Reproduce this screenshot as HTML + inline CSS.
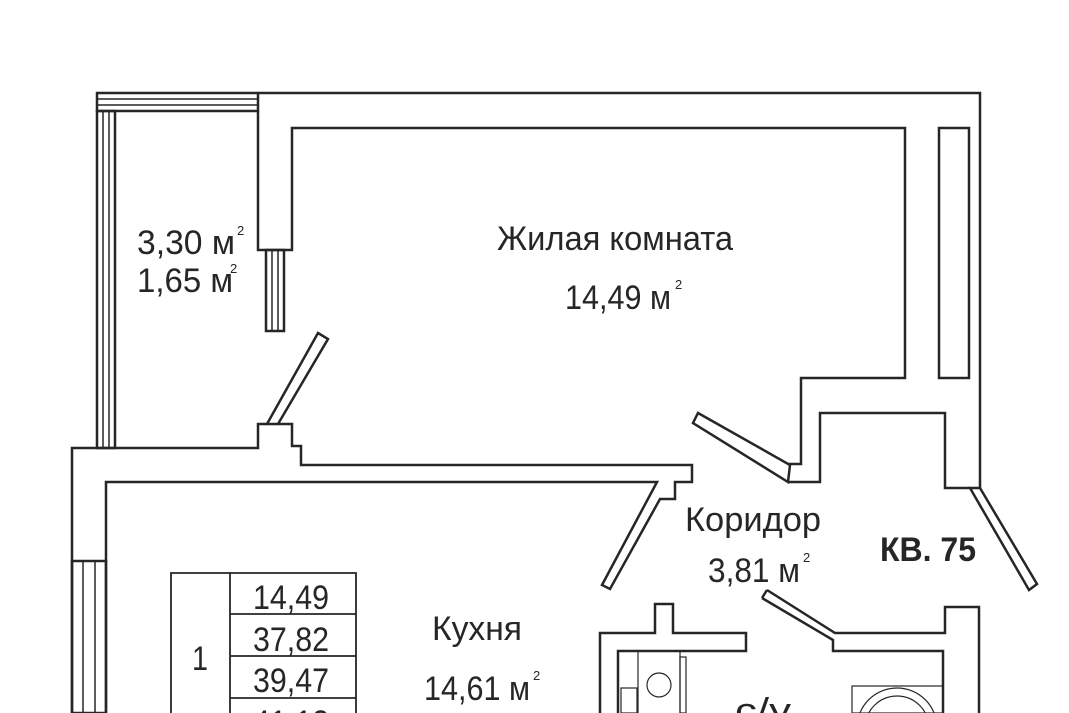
<!DOCTYPE html>
<html><head><meta charset="utf-8"><style>
html,body{margin:0;padding:0;background:#fff;width:1069px;height:713px;overflow:hidden}
svg{display:block}
text{font-family:"Liberation Sans",sans-serif;fill:#262626}
</style></head><body>
<svg width="1069" height="713" viewBox="0 0 1069 713" xmlns="http://www.w3.org/2000/svg">
<g fill="none" stroke="#262626" stroke-width="2.5" stroke-linejoin="miter">
<rect x="97" y="93" width="161" height="18"/>
<line x1="97" y1="99" x2="258" y2="99" stroke-width="1.5"/>
<line x1="97" y1="105" x2="258" y2="105" stroke-width="1.5"/>
<rect x="97" y="111" width="18" height="337"/>
<line x1="103" y1="111" x2="103" y2="448" stroke-width="1.5"/>
<line x1="109" y1="111" x2="109" y2="448" stroke-width="1.5"/>
<polyline points="258,93 980,93 980,488"/>
<polyline points="258,111 258,250 292,250 292,128 905,128 905,378 801,378 801,464 788,464"/>
<rect x="266" y="250" width="18" height="81"/>
<line x1="272" y1="250" x2="272" y2="331" stroke-width="1.5"/>
<line x1="278" y1="250" x2="278" y2="331" stroke-width="1.5"/>
<rect x="939" y="128" width="30" height="250"/>
<polygon points="318,333 328,339 278,424 267,424"/>
<polyline points="72,713 72,448 258,448 258,424 267,424"/>
<polyline points="278,424 292,424 292,446 301,446 301,465 692,465 692,482 675,482 675,499 660,499 610,589 602,585 657,482 106,482 106,713"/>
<rect x="72" y="561" width="34" height="152"/>
<line x1="83" y1="561" x2="83" y2="713" stroke-width="1.5"/>
<line x1="95" y1="561" x2="95" y2="713" stroke-width="1.5"/>
<polygon points="698,413 790,465 788,482 693,423"/>
<polyline points="788,482 820,482 820,413 945,413 945,488 970,488"/>
<polygon points="970,488 980,488 1037,584 1029,590"/>
<polyline points="767,590 835,633 945,633 945,607 979,607 979,713"/>
<polyline points="762,598 833,640 833,651 943,651 943,713"/>
<line x1="762" y1="598" x2="767" y2="590"/>
<polyline points="600,713 600,633 655,633 655,604 673,604 673,633 746,633 746,651 618,651 618,713"/>
</g>
<g fill="none" stroke="#262626" stroke-width="1.2">
<line x1="638" y1="651" x2="638" y2="713"/>
<line x1="680" y1="651" x2="680" y2="713"/>
<rect x="680" y="657" width="6" height="56"/>
<circle cx="659" cy="685" r="12"/>
<rect x="621" y="688" width="16" height="25"/>
<rect x="852" y="686" width="91" height="27"/>
<circle cx="897" cy="728" r="40"/>
<circle cx="897" cy="728" r="32"/>
</g>
<g fill="none" stroke="#262626" stroke-width="1.8">
<polyline points="171,713 171,573 356,573 356,713"/>
<line x1="230" y1="573" x2="230" y2="713"/>
<line x1="230" y1="614" x2="356" y2="614"/>
<line x1="230" y1="656" x2="356" y2="656"/>
<line x1="230" y1="698" x2="356" y2="698"/>
</g>
<g font-size="34">
<text x="253" y="609" textLength="76" lengthAdjust="spacingAndGlyphs">14,49</text>
<text x="253" y="651" textLength="76" lengthAdjust="spacingAndGlyphs">37,82</text>
<text x="253" y="692" textLength="76" lengthAdjust="spacingAndGlyphs">39,47</text>
<text x="253" y="734" textLength="76" lengthAdjust="spacingAndGlyphs">41,12</text>
<text x="192" y="670" textLength="16" lengthAdjust="spacingAndGlyphs">1</text>
</g>
<g font-size="34">
<text x="497" y="250" textLength="236" lengthAdjust="spacingAndGlyphs">Жилая комната</text>
<text x="565" y="309" textLength="106" lengthAdjust="spacingAndGlyphs">14,49 м</text>
<text x="675" y="289" font-size="13">2</text>
<text x="137" y="254" textLength="98" lengthAdjust="spacingAndGlyphs">3,30 м</text>
<text x="237" y="235" font-size="13">2</text>
<text x="137" y="292" textLength="96" lengthAdjust="spacingAndGlyphs">1,65 м</text>
<text x="230" y="273" font-size="13">2</text>
<text x="685" y="531" textLength="136" lengthAdjust="spacingAndGlyphs">Коридор</text>
<text x="708" y="582" textLength="92" lengthAdjust="spacingAndGlyphs">3,81 м</text>
<text x="803" y="562" font-size="13">2</text>
<text x="880" y="561" font-weight="bold" textLength="96" lengthAdjust="spacingAndGlyphs">КВ. 75</text>
<text x="432" y="640" textLength="90" lengthAdjust="spacingAndGlyphs">Кухня</text>
<text x="424" y="700" textLength="106" lengthAdjust="spacingAndGlyphs">14,61 м</text>
<text x="533" y="680" font-size="13">2</text>
<text x="735" y="722" textLength="56" lengthAdjust="spacingAndGlyphs">с/у</text>
</g>
</svg>
</body></html>
